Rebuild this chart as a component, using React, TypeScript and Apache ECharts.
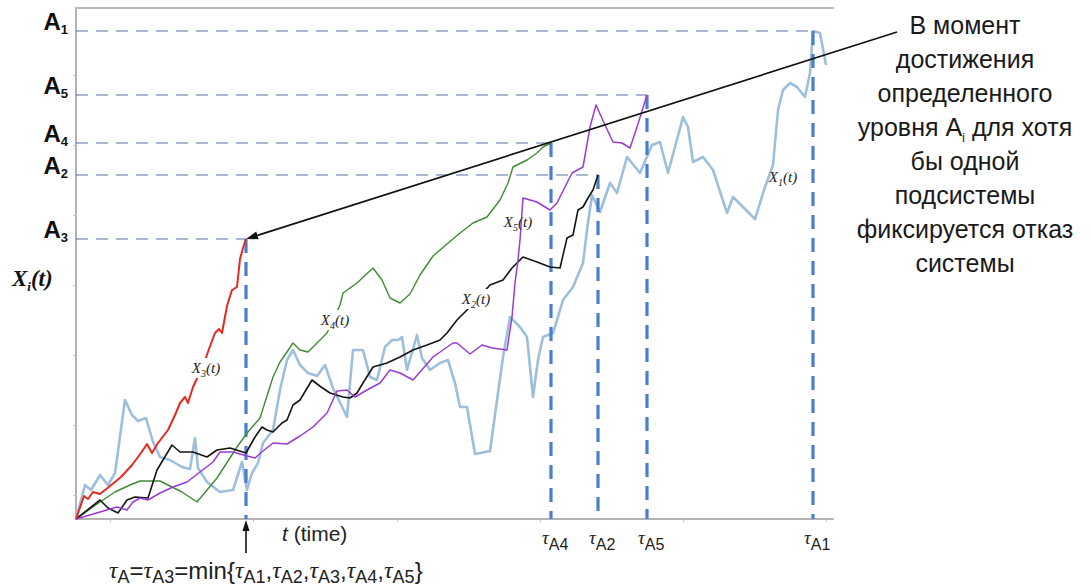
import React, { useEffect, useRef } from 'react';
import * as echarts from 'echarts';

// Axis extents (arbitrary time / state units)
const T_MAX = 757;
const X_MAX = 511;

// Failure thresholds A_i and first-passage times τ_Ai of each subsystem
const levelIds = ['1', '2', '3', '4', '5'];
const levelValues = [488, 344, 280, 376, 424];
const passageTimes = [737, 522, 170, 475, 571];

// Faint tick marks on the axes
const tickT = [34, 177, 321, 464, 607, 750];
const tickX = [24, 94, 164, 234, 304, 374, 444];

// Degradation trajectories X_i(t): [t, X]
const x1: number[][] = [
  [0, 0], [9, 34], [15, 29], [24, 44], [32, 34], [39, 46], [49, 119], [56, 104], [62, 98], [70, 101],
  [77, 77], [84, 62], [94, 59], [106, 52], [114, 50], [119, 81], [122, 51], [131, 37], [144, 27], [157, 29],
  [166, 57], [171, 29], [176, 46], [182, 56], [187, 76], [197, 89], [204, 129], [211, 159], [217, 169], [224, 154],
  [232, 146], [241, 143], [249, 154], [257, 131], [271, 102], [277, 169], [287, 169], [294, 142], [301, 139], [309, 172],
  [316, 179], [322, 179], [326, 182], [331, 149], [341, 184], [346, 161], [354, 149], [364, 156], [372, 159], [379, 136],
  [384, 112], [391, 112], [399, 65], [414, 68], [427, 162], [434, 202], [444, 192], [451, 182], [457, 122], [462, 159],
  [467, 182], [477, 186], [481, 199], [487, 219], [497, 232], [507, 256], [511, 289], [516, 324], [524, 307], [534, 336],
  [541, 326], [551, 362], [564, 346], [576, 374], [584, 377], [592, 346], [599, 372], [607, 402], [612, 392], [617, 357],
  [627, 362], [637, 349], [651, 306], [657, 322], [667, 312], [679, 300], [689, 332], [697, 354], [702, 409], [707, 429],
  [714, 436], [721, 432], [729, 422], [734, 446], [737, 488], [744, 486], [750, 454],
];

const x2: number[][] = [
  [0, 0], [24, 19], [32, 11], [42, 6], [51, 19], [59, 22], [72, 21], [81, 49], [96, 74], [104, 67],
  [117, 67], [131, 62], [141, 69], [154, 71], [170, 66], [179, 82], [186, 92], [191, 89], [197, 87], [206, 96],
  [211, 99], [217, 114], [224, 119], [236, 139], [245, 132], [254, 126], [267, 122], [274, 121], [281, 126], [287, 136],
  [297, 152], [311, 156], [324, 162], [337, 169], [351, 174], [364, 179], [371, 186], [381, 199], [391, 209], [414, 234],
  [427, 239], [436, 251], [447, 262], [461, 257], [474, 252], [484, 251], [491, 281], [497, 284], [502, 309], [507, 312],
  [512, 321], [517, 329], [522, 344],
];

const x3: number[][] = [
  [0, 0], [8, 23], [12, 20], [17, 27], [24, 25], [34, 33], [45, 42], [56, 54], [65, 66], [71, 75],
  [76, 66], [82, 76], [92, 89], [99, 104], [104, 116], [109, 122], [112, 116], [117, 132], [127, 153], [133, 170],
  [139, 186], [143, 190], [146, 186], [151, 213], [156, 229], [161, 232], [164, 260], [167, 271], [170, 280],
];

const x4: number[][] = [
  [0, 0], [24, 17], [39, 27], [54, 34], [64, 38], [84, 38], [106, 27], [121, 17], [141, 41], [161, 72],
  [171, 86], [184, 101], [197, 142], [204, 157], [211, 167], [217, 176], [224, 169], [232, 167], [241, 176], [251, 186],
  [264, 214], [267, 226], [281, 236], [297, 251], [306, 239], [314, 221], [324, 216], [334, 225], [344, 244], [357, 263],
  [371, 275], [384, 286], [397, 296], [411, 302], [424, 319], [432, 336], [437, 352], [451, 359], [461, 366], [467, 372],
  [475, 376],
];

const x5: number[][] = [
  [0, 0], [24, 7], [41, 12], [51, 9], [57, 17], [64, 21], [72, 19], [84, 26], [97, 32], [111, 37],
  [124, 47], [137, 57], [144, 67], [157, 67], [171, 63], [179, 61], [187, 68], [197, 76], [211, 75], [224, 83],
  [237, 92], [251, 106], [261, 128], [271, 129], [279, 122], [291, 129], [304, 136], [314, 149], [324, 146], [337, 139],
  [344, 147], [357, 162], [367, 169], [377, 176], [381, 176], [394, 165], [406, 174], [416, 171], [431, 169], [436, 202],
  [439, 236], [442, 259], [444, 279], [447, 321], [461, 317], [474, 309], [481, 316], [496, 346], [507, 352], [514, 392],
  [520, 414], [529, 394], [537, 377], [546, 376], [554, 371], [561, 392], [571, 424],
];

const curveIds = ['1', '2', '3', '4', '5'];
const curveData = [x1, x2, x3, x4, x5];
const curveColors = ['#9dbfdc', '#141414', '#e62a20', '#3f8a34', '#9a3bd4'];
const curveWidths = [2.6, 1.6, 2, 1.4, 1.5];
const curveZ = [2, 5, 7, 4, 6];
// where each curve's name is written: [t, X]
const curveLabelAt = [[707, 342], [400, 220], [130, 151], [259, 199], [442, 297]];
const curveLabelBg = [false, true, true, true, false];

const SANS = '"Liberation Sans", Arial, sans-serif';
const SERIF = '"Liberation Serif", "Times New Roman", serif';

const annotationLines = [
  'В момент',
  'достижения',
  'определенного',
  'уровня {a|A}{i|i} для хотя',
  'бы одной',
  'подсистемы',
  'фиксируется отказ',
  'системы',
];

function buildOption(): echarts.EChartsOption {
  const series: any[] = [];

  curveData.forEach((d, i) => {
    series.push({
      name: 'X' + curveIds[i],
      type: 'line',
      data: d,
      symbol: 'none',
      silent: true,
      z: curveZ[i],
      lineStyle: { color: curveColors[i], width: curveWidths[i], join: 'round' },
    });
  });

  levelValues.forEach((a, i) => {
    const tau = passageTimes[i];
    series.push({
      name: 'A' + levelIds[i] + ' level',
      type: 'line',
      data: [[0, a], [tau, a]],
      symbol: 'none',
      silent: true,
      z: 3,
      lineStyle: { color: '#56719e', width: 1.2, type: [12, 8] },
    });
    series.push({
      name: 'τA' + levelIds[i],
      type: 'line',
      data: [[tau, a], [tau, 0]],
      symbol: 'none',
      silent: true,
      z: 3,
      lineStyle: { color: '#4a7dd0', width: 3.2, type: [14, 9] },
    });
  });

  return {
    animation: false,
    backgroundColor: '#ffffff',
    grid: { left: 76, top: 8, width: 757, height: 511, containLabel: false, outerBoundsMode: 'none' } as any,
    xAxis: [
      {
        type: 'value',
        min: 0,
        max: T_MAX,
        axisLine: { show: true, lineStyle: { color: '#b3b3b3', width: 2 } },
        axisTick: { show: true, length: 3, lineStyle: { color: '#c4c4c4' }, customValues: tickT } as any,
        axisLabel: { show: false },
        splitLine: { show: false },
      },
      {
        type: 'value',
        position: 'top',
        min: 0,
        max: T_MAX,
        axisLine: { show: true, lineStyle: { color: '#b8b8b8', width: 2 } },
        axisTick: { show: false },
        axisLabel: { show: false },
        splitLine: { show: false },
      },
    ],
    yAxis: {
      type: 'value',
      min: 0,
      max: X_MAX,
      axisLine: { show: true, lineStyle: { color: '#b3b3b3', width: 2 } },
      axisTick: { show: true, length: 3, lineStyle: { color: '#c4c4c4' }, customValues: tickX } as any,
      axisLabel: { show: false },
      splitLine: { show: false },
    },
    series,
  };
}

function buildGraphics(px: (t: number, x: number) => number[]): any[] {
  const g: any[] = [];

  // threshold names A_i beside the y axis
  levelValues.forEach((a, i) => {
    const [ax, ay] = px(0, a);
    g.push({
      type: 'text',
      x: ax - 8,
      y: ay - 10,
      z: 20,
      style: {
        text: `{a|A}{s|${levelIds[i]}}`,
        align: 'right',
        verticalAlign: 'middle',
        rich: {
          a: { fontFamily: SANS, fontWeight: 'bold', fontSize: 24, lineHeight: 30, fill: '#111' },
          s: { fontFamily: SANS, fontWeight: 'bold', fontSize: 13, lineHeight: 14, verticalAlign: 'bottom', fill: '#111' },
        },
      },
    });
  });

  // τ_Ai under the time axis (τ_A3 is named in the formula below)
  passageTimes.forEach((tau, i) => {
    if (levelIds[i] === '3') return;
    const [tx, ty] = px(tau, 0);
    g.push({
      type: 'text',
      x: tx - 9,
      y: ty + 18,
      z: 20,
      style: {
        text: `{t|τ}{s|A${levelIds[i]}}`,
        align: 'left',
        verticalAlign: 'middle',
        rich: {
          t: { fontFamily: SERIF, fontStyle: 'italic', fontSize: 19, lineHeight: 30, fill: '#222' },
          s: { fontFamily: SANS, fontSize: 16, lineHeight: 14, verticalAlign: 'bottom', fill: '#222' },
        },
      },
    });
  });

  // first failure: arrow up to the axis and the formula under it
  const i3 = levelIds.indexOf('3');
  const [fx, fy] = px(passageTimes[i3], 0);
  g.push({ type: 'line', z: 20, shape: { x1: fx, y1: fy + 34, x2: fx, y2: fy + 10 }, style: { stroke: '#111', lineWidth: 1.6 } });
  g.push({ type: 'polygon', z: 20, shape: { points: [[fx, fy + 1], [fx - 3.5, fy + 12], [fx + 3.5, fy + 12]] }, style: { fill: '#111' } });

  const tauSeq = levelIds.map((id) => `{t|τ}{s|A${id}}`).join('{m|,}');
  g.push({
    type: 'text',
    x: 109,
    y: fy + 51,
    z: 20,
    style: {
      text: `{t|τ}{s|A}{m|=}{t|τ}{s|A3}{m|=min{}${tauSeq}}`,
      align: 'left',
      verticalAlign: 'middle',
      fontFamily: SANS,
      fontSize: 24,
      lineHeight: 32,
      fill: '#222',
      rich: {
        t: { fontFamily: SERIF, fontStyle: 'italic', fontSize: 24, lineHeight: 32, fill: '#222' },
        s: { fontFamily: SANS, fontSize: 18, lineHeight: 14, verticalAlign: 'bottom', fill: '#222' },
        m: { fontFamily: SANS, fontSize: 24, lineHeight: 32, fill: '#222' },
      },
    },
  });

  // time axis name
  g.push({
    type: 'text',
    x: 282,
    y: fy + 14,
    z: 20,
    style: {
      text: '{it|t}{n| (time)}',
      align: 'left',
      verticalAlign: 'middle',
      rich: {
        it: { fontFamily: SANS, fontStyle: 'italic', fontSize: 21, lineHeight: 26, fill: '#222' },
        n: { fontFamily: SANS, fontSize: 21, lineHeight: 26, fill: '#222' },
      },
    },
  });

  // state axis name
  const [, yMid] = px(0, 241);
  g.push({
    type: 'text',
    x: 12,
    y: yMid,
    z: 20,
    style: {
      text: '{x|X}{s|i}{x|(t)}',
      align: 'left',
      verticalAlign: 'middle',
      rich: {
        x: { fontFamily: SERIF, fontStyle: 'italic', fontWeight: 'bold', fontSize: 23, lineHeight: 30, fill: '#111' },
        s: { fontFamily: SERIF, fontStyle: 'italic', fontWeight: 'bold', fontSize: 13, lineHeight: 14, verticalAlign: 'bottom', fill: '#111' },
      },
    },
  });

  // names of the trajectories
  curveLabelAt.forEach(([t, x], i) => {
    const [lx, ly] = px(t, x);
    g.push({
      type: 'text',
      x: lx,
      y: ly,
      z: 10,
      style: {
        text: `{x|X}{s|${curveIds[i]}}{x|(t)}`,
        align: 'center',
        verticalAlign: 'middle',
        backgroundColor: curveLabelBg[i] ? '#ffffff' : 'transparent',
        padding: [0, 1],
        rich: {
          x: { fontFamily: SERIF, fontStyle: 'italic', fontSize: 15, lineHeight: 20, fill: '#222' },
          s: { fontFamily: SERIF, fontStyle: 'italic', fontSize: 10, lineHeight: 10, verticalAlign: 'bottom', fill: '#222' },
        },
      },
    });
  });

  // explanatory note with its arrow to the first threshold crossing
  const noteX = 965;
  const noteTop = 8;
  g.push({
    type: 'text',
    x: noteX,
    y: noteTop,
    z: 20,
    style: {
      text: annotationLines.join('\n'),
      align: 'center',
      verticalAlign: 'top',
      fontFamily: SANS,
      fontSize: 25,
      lineHeight: 34,
      fill: '#1a1a1a',
      rich: {
        a: { fontFamily: SANS, fontSize: 25, lineHeight: 34, fill: '#1a1a1a' },
        i: { fontFamily: SANS, fontSize: 13, lineHeight: 18, verticalAlign: 'bottom', fill: '#1a1a1a' },
      },
    },
  });

  const [ex, ey] = px(passageTimes[i3], levelValues[i3]);
  const sx = noteX - 68;
  const sy = noteTop + 24;
  const len = Math.hypot(ex - sx, ey - sy);
  const dx = (ex - sx) / len;
  const dy = (ey - sy) / len;
  const headL = 12;
  const headW = 4;
  const bx = ex - dx * headL;
  const by = ey - dy * headL;
  g.push({ type: 'line', z: 20, shape: { x1: sx, y1: sy, x2: bx, y2: by }, style: { stroke: '#111', lineWidth: 1.6 } });
  g.push({
    type: 'polygon',
    z: 20,
    shape: { points: [[ex, ey], [bx - dy * headW, by + dx * headW], [bx + dy * headW, by - dx * headW]] },
    style: { fill: '#111' },
  });

  return g;
}

export default function App() {
  const ref = useRef<HTMLDivElement>(null);

  useEffect(() => {
    if (!ref.current) return;
    const chart = echarts.init(ref.current, undefined, { renderer: 'svg' });
    chart.setOption(buildOption());
    const px = (t: number, x: number) => chart.convertToPixel({ gridIndex: 0 }, [t, x]) as number[];
    chart.setOption({ graphic: buildGraphics(px) });
    return () => chart.dispose();
  }, []);

  return (
    <div
      ref={ref}
      style={{ position: 'fixed', left: 0, top: 0, width: 1091, height: 588, background: '#ffffff' }}
    />
  );
}
